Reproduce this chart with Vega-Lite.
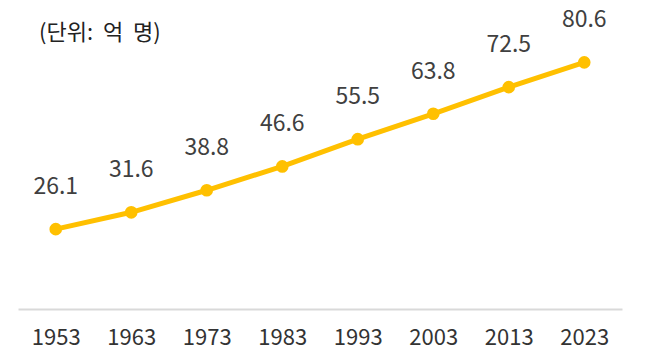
{
  "$schema": "https://vega.github.io/schema/vega-lite/v6.json",
  "width": 604,
  "height": 306,
  "autosize": "none",
  "padding": {"left": 18, "top": 3, "right": 25, "bottom": 44},
  "background": "white",
  "config": {"view": {"stroke": null}, "font": "Noto Sans CJK KR"},
  "title": {"text": "(단위:\u00a0\u00a0억\u00a0\u00a0명)", "anchor": "start", "frame": "group", "dx": 21, "dy": 46, "fontSize": 22, "fontWeight": "normal", "color": "#222222", "font": "Noto Sans CJK KR"},
  "data": {"values": [
    {"year": "1953", "pop": 26.1},
    {"year": "1963", "pop": 31.6},
    {"year": "1973", "pop": 38.8},
    {"year": "1983", "pop": 46.6},
    {"year": "1993", "pop": 55.5},
    {"year": "2003", "pop": 63.8},
    {"year": "2013", "pop": 72.5},
    {"year": "2023", "pop": 80.6}
  ]},
  "encoding": {
    "x": {"field": "year", "type": "ordinal", "sort": null, "scale": {"type": "point", "padding": 0.5},
      "axis": {"title": null, "labelAngle": 0, "ticks": false, "domainColor": "#d9d9d9", "domainWidth": 2, "labelFontSize": 22, "labelColor": "#333333", "labelPadding": 18, "labelFont": "Noto Sans CJK KR"}},
    "y": {"field": "pop", "type": "quantitative", "scale": {"domain": [0, 100]}, "axis": null}
  },
  "layer": [
    {"mark": {"type": "line", "color": "#FFC000", "strokeWidth": 5}},
    {"mark": {"type": "point", "filled": true, "opacity": 1, "color": "#FFC000", "size": 160}},
    {"mark": {"type": "text", "dy": -42, "fontSize": 23, "color": "#404040", "font": "Noto Sans CJK KR"}, "encoding": {"text": {"field": "pop", "type": "quantitative", "format": ".1f"}}}
  ]
}
